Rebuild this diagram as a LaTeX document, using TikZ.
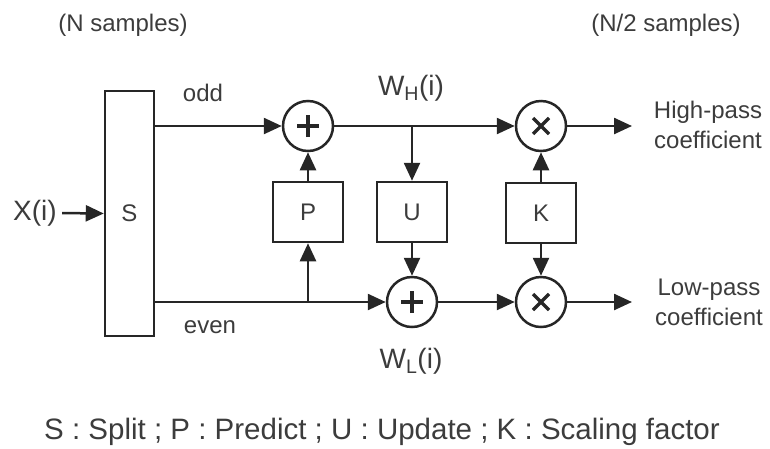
\documentclass[tikz,border=0pt]{standalone}
\usepackage{fontspec}
\setmainfont{Liberation Sans}
\usetikzlibrary{arrows.meta}
\definecolor{ink}{HTML}{262626}
\definecolor{txt}{HTML}{3C3C3C}

\begin{document}
\begin{tikzpicture}[x=1pt,y=-1pt, color=ink, text=txt, line width=2.5pt,
    >={Triangle[length=18pt,width=16pt]},
    blk/.style={draw, rectangle, inner sep=0pt, minimum width=70pt, minimum height=60pt,
        font=\fontsize{24}{28}\selectfont},
    sumop/.style={draw, circle, inner sep=0pt, minimum size=50pt,
        path picture={\draw[line width=3.3pt] (path picture bounding box.center)
            +(-11pt,0) -- +(11pt,0) +(0,-11pt) -- +(0,11pt);}},
    mulop/.style={draw, circle, inner sep=0pt, minimum size=50pt,
        path picture={\draw[line width=3.3pt] (path picture bounding box.center)
            +(-8pt,-8pt) -- +(8pt,8pt) +(-8pt,8pt) -- +(8pt,-8pt);}},
    lbl/.style={inner sep=0pt, font=\fontsize{24}{30}\selectfont},
    biglbl/.style={inner sep=0pt, font=\fontsize{28}{32}\selectfont}]
    \useasboundingbox (0,0) rectangle (770,448);

    % Sample counts
    \node[lbl] (nin) at (123,25) {(N samples)};
    \node[lbl] (nout) at (666,25) {(N/2 samples)};

    % Split block and input
    \node[blk, minimum width=49pt, minimum height=245pt] (split) at (129.5,213.5) {S};
    \node[biglbl] (xin) at (35,213) {X(i)};
    \draw[->, shorten <=4pt] (xin.east) -- (split.west);

    % Lifting blocks
    \node[sumop] (addH) at (308,126) {};
    \node[sumop] (addL) at (412,302) {};
    \node[mulop] (mulH) at (541,126) {};
    \node[mulop] (mulL) at (541,302) {};
    \node[blk] (pred) at (308,212) {P};
    \node[blk] (upd) at (412,212) {U};
    \node[blk] (scl) at (541,213) {K};

    % Odd and even branches
    \draw[->] (split.east |- addH) -- (addH.west);
    \draw[->] (split.east |- addL) -- (addL.west);
    \draw[->] (pred |- addL) -- (pred.south);
    \draw[->] (pred.north) -- (addH.south);
    \node[lbl] (odd) at (203,93) {odd};
    \node[lbl] (even) at (210,327) {even};

    % Update and scaling
    \draw[->] (addH.east) -- (mulH.west);
    \draw[->] (upd |- addH) -- (upd.north);
    \draw[->] (upd.south) -- (addL.north);
    \draw[->] (addL.east) -- (mulL.west);
    \draw[->] (scl.north) -- (mulH.south);
    \draw[->] (scl.south) -- (mulL.north);
    \node[biglbl] (wh) at (411,88) {W\textsubscript{H}(i)};
    \node[biglbl] (wl) at (411,361) {W\textsubscript{L}(i)};

    % Outputs
    \coordinate (outH) at (632,126);
    \coordinate (outL) at (632,302);
    \draw[->] (mulH.east) -- (outH);
    \draw[->] (mulL.east) -- (outL);
    \node[lbl, align=center] (hp) at (708,125) {High-pass\\coefficient};
    \node[lbl, align=center] (lp) at (709,302) {Low-pass\\coefficient};

    % Legend
    \node[inner sep=0pt, font=\fontsize{29.5}{34}\selectfont] (legend) at (382,432)
        {S : Split ; P : Predict ; U : Update ; K : Scaling factor};
\end{tikzpicture}
\end{document}
